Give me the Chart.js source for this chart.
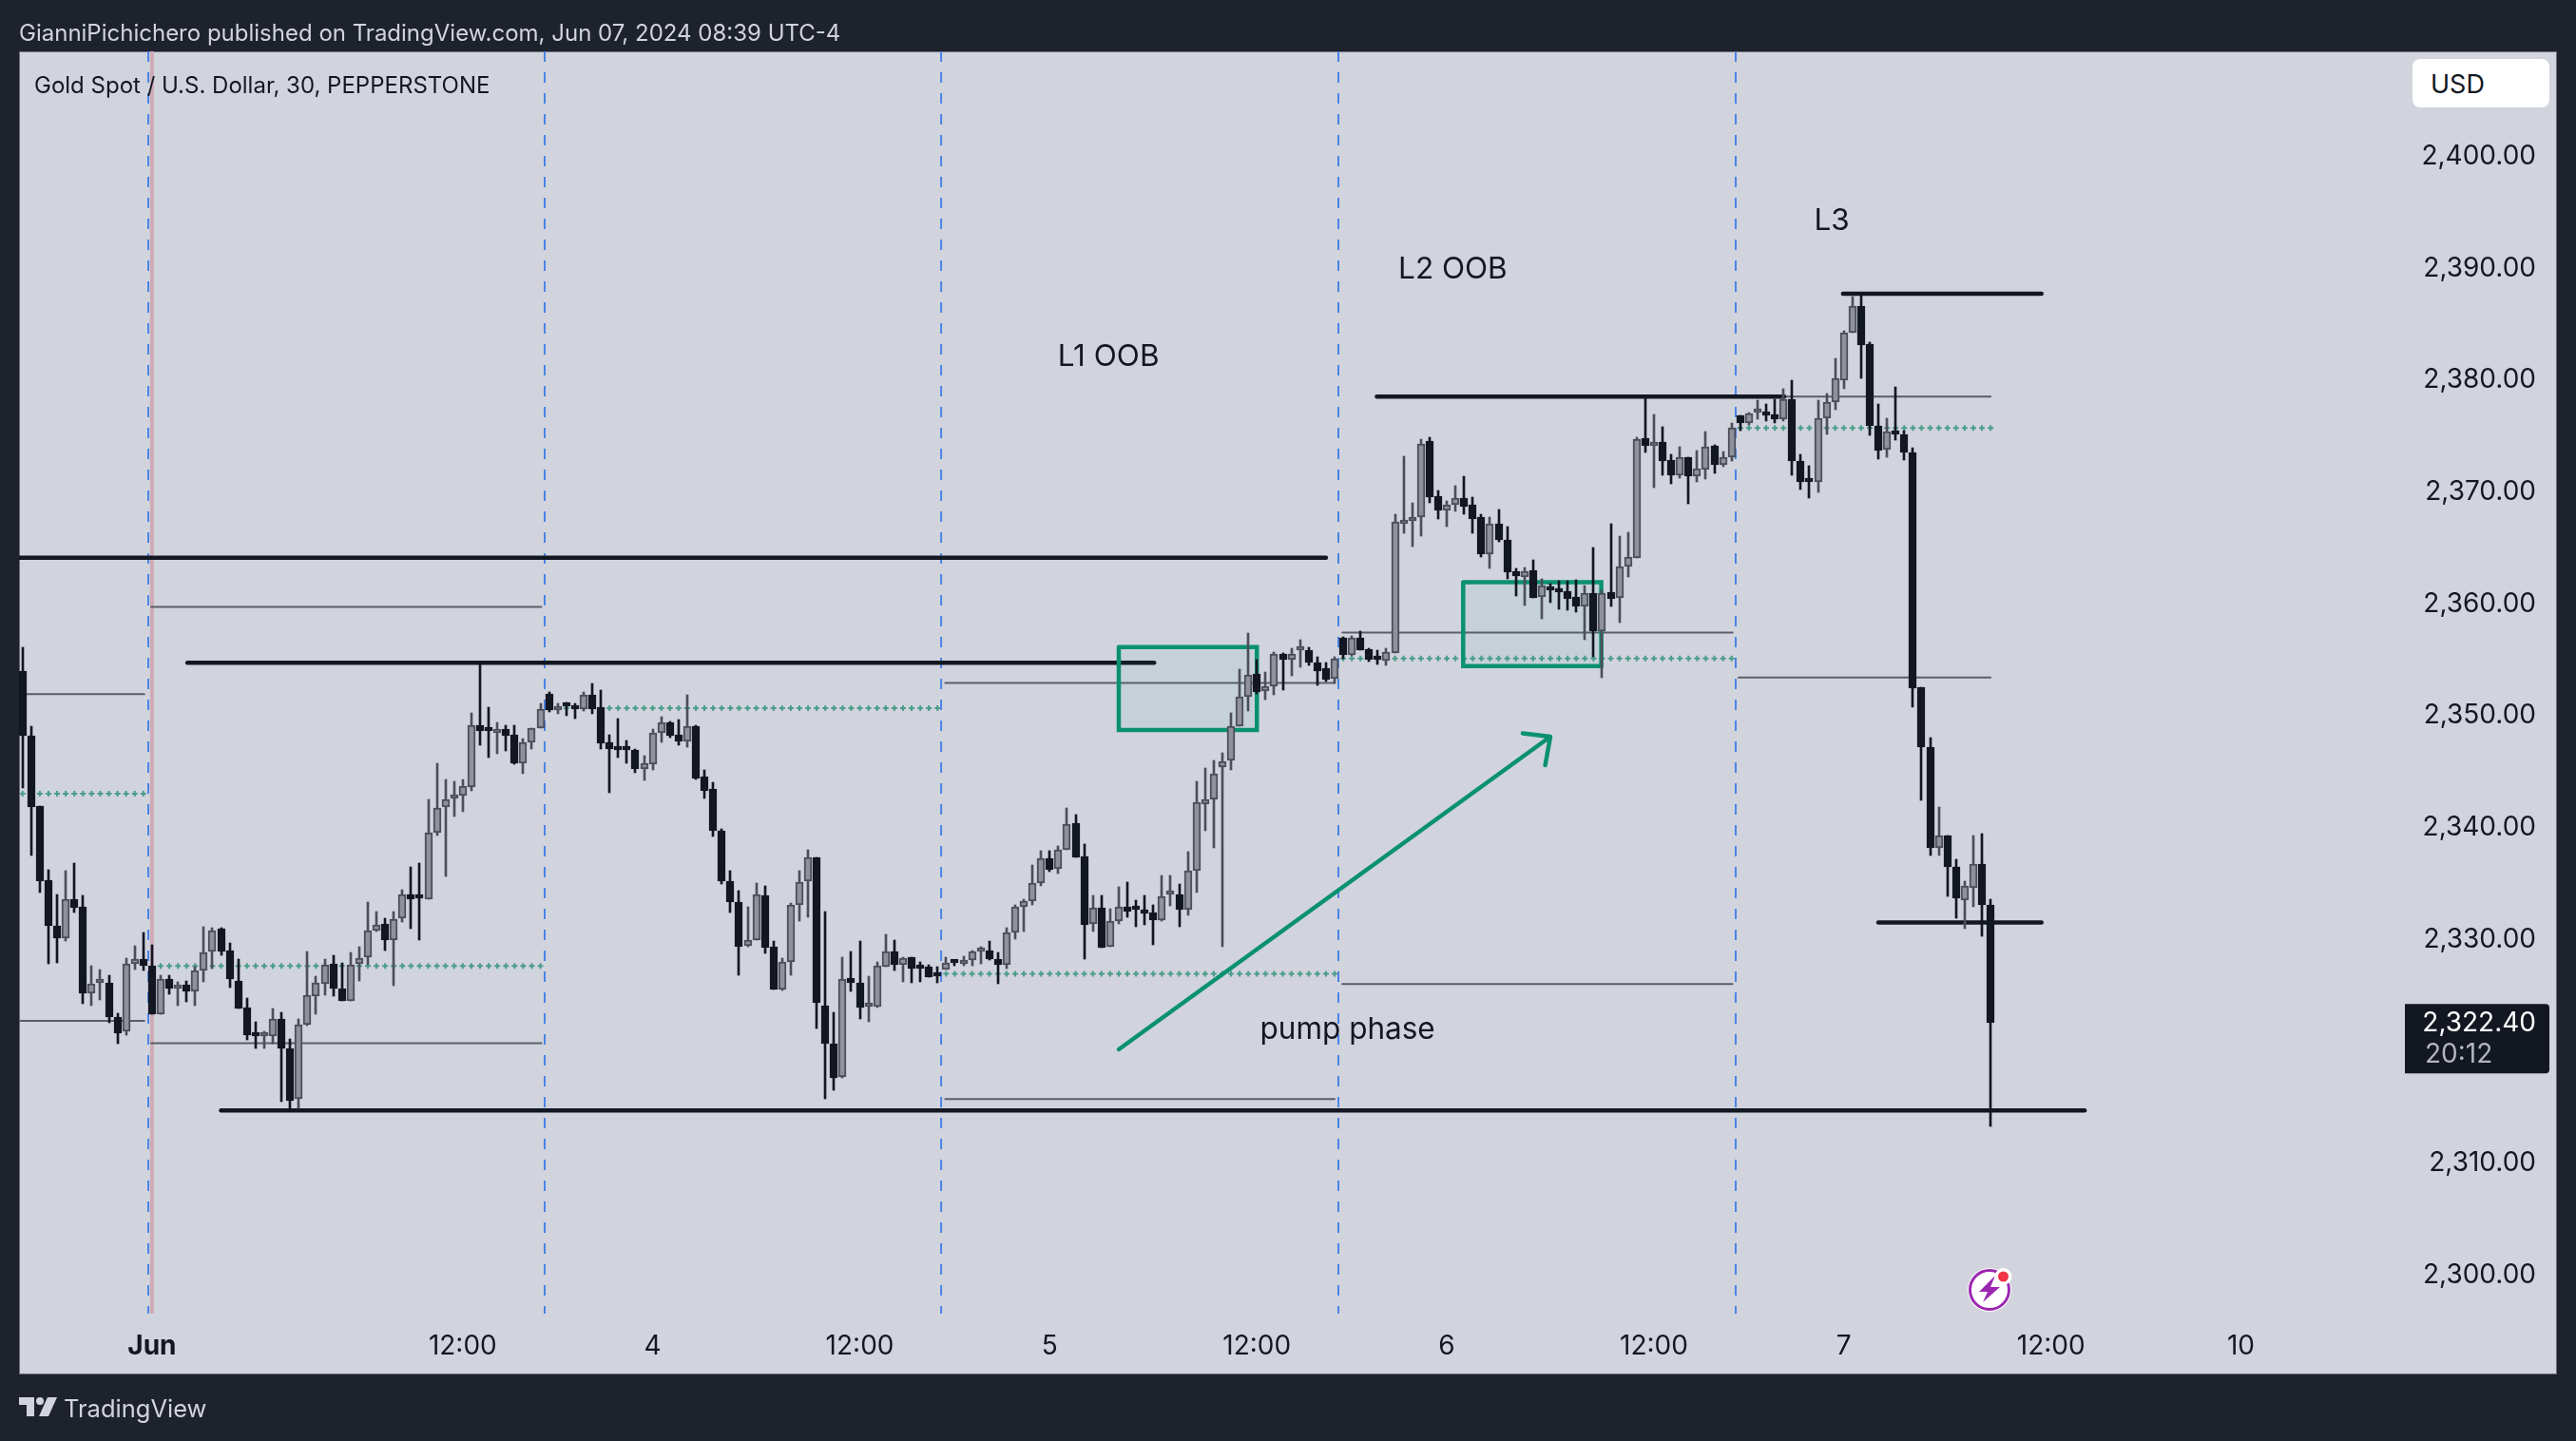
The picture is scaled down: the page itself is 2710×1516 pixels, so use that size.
<!DOCTYPE html>
<html>
<head>
<meta charset="utf-8">
<title>Gold Spot / U.S. Dollar</title>
<script src="https://cdn.jsdelivr.net/npm/chart.js@4/dist/chart.umd.min.js"></script>
<style>
html, body { margin: 0; padding: 0; width: 2710px; height: 1516px; background: #1e222d; overflow: hidden; font-family: Inter, sans-serif; }
#panel { position: absolute; left: 20px; top: 54px; width: 2668px; height: 1390px; background: #d1d4dc; border: 1px solid #6a6d78; }
#chart { position: absolute; left: 0; top: 0; }
.txt { position: absolute; white-space: nowrap; line-height: 1; }
#published { left: 20px; top: 23px; font-size: 24px; color: #d1d4dc; }
#legend { left: 36px; top: 78px; font-size: 24px; color: #131722; }
#brand { left: 67px; top: 1469px; font-size: 25.5px; color: #d1d4dc; }
#currency { left: 2538px; top: 62px; width: 144px; height: 51px; line-height: 53px; background: #fff; border-radius: 8px; color: #131722; font-size: 27px; text-indent: 19px; }
#logo { position: absolute; left: 20px; top: 1470px; }
#flash { position: absolute; left: 2065px; top: 1329px; }
</style>
</head>
<body>
<div id="panel"></div>
<canvas id="chart" width="2710" height="1516"></canvas>
<div class="txt" id="published">GianniPichichero published on TradingView.com, Jun 07, 2024 08:39 UTC-4</div>
<div class="txt" id="legend">Gold Spot / U.S. Dollar, 30, PEPPERSTONE</div>
<div class="txt" id="currency">USD</div>
<div class="txt" id="brand">TradingView</div>
<svg id="logo" width="40" height="20" viewBox="0 0 40 20">
  <path fill="#d1d4dc" d="M0 0h16v20H8V8H0z"/>
  <circle fill="#d1d4dc" cx="22" cy="4" r="4"/>
  <path fill="#d1d4dc" d="M30 0h10l-9 20H21z"/>
</svg>
<svg id="flash" width="60" height="56" viewBox="0 0 60 56">
  <circle cx="28" cy="28" r="23" fill="#fff"/>
  <circle cx="28" cy="28" r="20.5" fill="none" stroke="#9c27b0" stroke-width="3"/>
  <path fill="#9c27b0" d="M34 13 L17 30 L26 30 L21 41 L39 25 L29 25 Z"/>
  <circle cx="42.5" cy="14" r="9" fill="#fff"/>
  <circle cx="42.5" cy="14" r="5.5" fill="#f23645"/>
</svg>

<script>
// candles, one per 30 minutes
var opens = [2353.9,2348.1,2341.8,2335.2,2331.1,2330.0,2333.5,2332.8,2325.1,2326.0,
2326.0,2322.9,2321.7,2327.7,2328.1,2327.5,2323.2,2326.3,2325.5,2325.8,
2325.2,2327.1,2328.8,2330.8,2328.9,2326.2,2323.8,2321.4,2321.2,2321.2,
2322.8,2320.1,2315.6,2322.3,2324.8,2325.9,2327.7,2325.5,2324.4,2327.7,
2328.3,2330.7,2331.3,2329.8,2331.8,2333.9,2333.8,2333.5,2339.4,2341.7,
2342.5,2342.7,2343.5,2349.0,2348.6,2348.3,2348.7,2348.2,2345.6,2347.5,
2348.8,2351.8,2350.4,2350.8,2350.7,2350.5,2351.7,2350.6,2347.5,2347.0,
2346.9,2346.8,2345.1,2345.5,2348.3,2349.3,2348.2,2347.6,2348.9,2344.4,
2343.3,2339.6,2335.1,2333.2,2329.3,2329.8,2333.8,2329.2,2325.4,2327.9,
2333.0,2335.1,2337.2,2324.0,2320.6,2317.6,2326.4,2326.0,2323.9,2323.9,
2327.4,2328.8,2327.6,2328.3,2327.4,2327.4,2326.7,2327.2,2328.0,2327.7,
2328.0,2328.8,2328.9,2328.1,2327.6,2330.5,2332.8,2333.3,2334.9,2337.1,
2336.2,2337.9,2340.3,2337.3,2331.3,2332.7,2329.2,2331.5,2332.8,2332.7,
2332.5,2332.3,2331.6,2333.9,2333.9,2332.5,2336.0,2342.0,2342.4,2345.3,
2345.9,2348.9,2351.6,2353.6,2352.1,2352.5,2355.4,2354.9,2355.7,2355.7,
2354.6,2354.1,2353.2,2356.8,2355.3,2356.8,2355.8,2355.1,2354.8,2355.5,
2367.0,2367.3,2367.6,2374.4,2369.5,2368.2,2368.7,2369.3,2368.7,2367.6,
2364.3,2367.0,2365.6,2362.8,2362.3,2362.9,2360.5,2361.4,2361.2,2361.0,
2360.5,2359.6,2360.8,2357.4,2360.9,2360.4,2363.2,2364.0,2374.7,2374.0,
2374.3,2372.7,2371.4,2373.0,2371.3,2371.9,2374.0,2372.3,2373.0,2376.7,
2376.0,2377.0,2377.0,2376.8,2376.4,2378.2,2372.6,2371.0,2370.8,2376.5,
2377.9,2379.9,2384.1,2386.5,2383.1,2375.8,2373.7,2375.3,2375.0,2373.4,
2352.4,2347.1,2338.1,2339.2,2336.4,2333.4,2334.5,2336.6,2333.0];
var highs = [2356.0,2348.9,2341.8,2336.1,2333.9,2336.0,2336.7,2333.8,2327.5,2327.2,
2326.7,2323.3,2328.2,2329.3,2330.5,2329.4,2326.7,2326.7,2326.1,2326.2,
2327.4,2331.0,2330.9,2330.9,2329.6,2328.1,2324.6,2322.5,2321.7,2323.7,
2323.4,2321.0,2322.8,2328.8,2326.6,2328.1,2328.5,2327.8,2328.7,2329.2,
2333.2,2332.4,2331.8,2332.4,2334.3,2336.4,2336.7,2342.4,2345.6,2344.2,
2344.0,2344.2,2350.1,2354.5,2350.6,2349.3,2349.0,2349.0,2347.8,2348.8,
2351.0,2352.0,2351.0,2351.1,2351.0,2352.0,2352.8,2352.2,2348.2,2349.6,
2347.7,2346.9,2346.3,2348.7,2349.8,2349.4,2349.5,2351.7,2349.0,2345.0,
2343.9,2339.8,2336.0,2334.2,2332.8,2334.9,2334.7,2329.7,2328.2,2333.1,
2336.0,2337.9,2337.2,2332.4,2323.4,2328.3,2328.8,2329.7,2326.6,2327.9,
2330.3,2329.8,2328.3,2328.3,2327.9,2327.6,2327.4,2328.3,2328.0,2328.4,
2328.9,2329.2,2329.7,2328.7,2330.9,2333.0,2333.5,2336.5,2337.8,2337.8,
2338.2,2341.6,2341.0,2338.4,2333.8,2333.8,2332.6,2334.6,2335.0,2333.4,
2333.8,2333.0,2335.6,2335.6,2334.8,2337.7,2344.0,2345.2,2345.9,2346.6,
2350.1,2354.0,2357.3,2354.9,2353.8,2355.6,2355.5,2355.9,2356.7,2356.0,
2355.1,2354.6,2355.1,2356.9,2357.0,2357.4,2355.9,2355.7,2355.9,2367.9,
2373.1,2368.9,2374.6,2374.8,2370.0,2369.1,2370.4,2371.3,2369.4,2367.9,
2367.6,2368.3,2366.8,2363.0,2363.1,2363.8,2362.1,2361.7,2361.9,2361.9,
2362.0,2361.5,2364.9,2361.1,2367.0,2365.9,2366.3,2374.8,2378.3,2376.8,
2375.7,2373.2,2373.9,2373.0,2373.6,2375.3,2374.1,2373.5,2376.0,2376.7,
2377.0,2378.1,2377.7,2378.2,2379.1,2379.9,2373.2,2372.2,2378.1,2378.7,
2381.8,2384.3,2387.3,2387.5,2383.3,2377.7,2376.5,2379.3,2375.4,2373.8,
2352.4,2347.9,2341.7,2339.2,2337.0,2335.1,2339.2,2339.3,2333.5];
var lows = [2343.4,2337.4,2334.1,2327.7,2327.8,2329.7,2332.3,2324.1,2324.0,2324.5,
2322.4,2320.6,2321.3,2327.2,2327.1,2323.2,2323.2,2325.0,2324.0,2324.3,
2324.0,2326.1,2327.3,2328.5,2325.6,2323.7,2320.9,2320.1,2320.1,2320.6,
2315.4,2314.6,2314.8,2322.2,2323.2,2324.9,2324.8,2324.4,2324.4,2326.2,
2327.6,2330.6,2328.9,2325.7,2331.4,2330.8,2329.8,2333.5,2339.2,2335.5,
2340.9,2341.3,2343.2,2347.2,2346.1,2346.5,2346.7,2345.5,2344.7,2346.9,
2348.8,2350.2,2350.0,2349.9,2349.6,2350.3,2350.0,2346.9,2343.0,2346.1,
2345.6,2344.8,2344.1,2345.0,2347.5,2347.9,2347.2,2347.1,2344.2,2342.5,
2339.1,2334.8,2332.3,2326.7,2329.2,2329.8,2328.6,2325.4,2325.3,2326.7,
2331.5,2331.9,2321.9,2315.6,2316.4,2317.5,2325.2,2322.8,2322.5,2323.8,
2327.4,2327.1,2326.1,2326.0,2326.1,2326.5,2326.0,2327.2,2327.5,2327.5,
2327.5,2327.7,2328.0,2325.9,2327.3,2329.9,2330.6,2333.0,2334.7,2335.9,
2335.8,2337.9,2337.2,2328.1,2330.6,2329.1,2329.2,2331.3,2331.9,2331.0,
2331.2,2329.4,2331.5,2332.9,2331.0,2332.0,2334.1,2339.6,2338.1,2329.2,
2345.0,2348.9,2350.3,2351.8,2351.3,2351.7,2352.2,2353.4,2354.2,2354.4,
2352.6,2352.9,2352.8,2355.0,2355.2,2355.7,2354.7,2354.5,2354.4,2355.5,
2366.2,2365.0,2365.9,2368.9,2367.5,2366.8,2368.1,2367.9,2366.2,2364.1,
2363.0,2365.4,2362.1,2360.6,2359.7,2360.4,2358.5,2360.0,2359.4,2359.3,
2359.1,2356.7,2355.1,2353.3,2359.6,2358.2,2362.3,2364.0,2373.4,2370.3,
2371.4,2370.6,2371.1,2368.8,2370.8,2371.0,2371.5,2372.1,2372.6,2375.4,
2375.9,2376.4,2376.2,2376.0,2376.2,2371.4,2370.1,2369.3,2369.8,2375.0,
2377.2,2379.1,2384.1,2380.0,2374.9,2372.8,2373.0,2374.5,2372.7,2350.6,
2342.3,2337.4,2337.4,2333.7,2331.8,2330.8,2332.8,2330.2,2313.2];
var closes = [2348.1,2341.7,2335.1,2331.1,2330.0,2333.5,2332.7,2325.1,2325.9,2326.1,
2322.9,2321.5,2327.7,2328.1,2327.5,2323.2,2326.3,2325.5,2325.8,2325.2,
2327.1,2328.7,2330.7,2328.8,2326.3,2323.7,2321.3,2321.2,2321.3,2322.8,
2320.1,2315.5,2322.3,2324.9,2326.0,2327.6,2325.5,2324.4,2327.6,2328.2,
2330.7,2331.2,2329.8,2331.7,2333.9,2333.5,2333.6,2339.4,2341.6,2342.4,
2342.8,2343.6,2349.0,2348.5,2348.5,2348.6,2348.1,2345.6,2347.5,2348.8,
2350.5,2350.4,2350.7,2350.7,2350.5,2351.7,2350.5,2347.4,2346.9,2346.8,
2346.8,2345.1,2345.6,2348.3,2349.3,2348.1,2347.6,2348.9,2344.3,2343.2,
2339.6,2335.1,2333.2,2329.2,2329.8,2333.9,2329.1,2325.4,2327.9,2333.0,
2335.0,2337.2,2324.2,2320.6,2317.5,2326.3,2326.0,2323.8,2324.1,2327.5,
2328.8,2327.6,2328.2,2327.3,2327.3,2326.5,2326.6,2327.8,2327.8,2327.9,
2328.8,2329.0,2328.1,2327.6,2330.5,2332.8,2333.3,2334.9,2337.1,2336.1,
2337.9,2340.2,2337.2,2331.2,2332.7,2329.1,2331.5,2332.8,2332.4,2332.5,
2332.2,2331.6,2333.7,2334.0,2332.5,2336.0,2342.1,2342.4,2344.7,2345.8,
2348.9,2351.6,2353.5,2352.0,2352.5,2355.4,2354.9,2355.4,2355.8,2354.6,
2353.9,2353.1,2355.0,2355.3,2356.8,2355.7,2354.9,2354.9,2355.6,2367.2,
2367.3,2367.6,2374.2,2369.4,2368.2,2368.7,2369.3,2368.6,2367.5,2364.3,
2367.0,2365.6,2362.7,2362.4,2362.8,2360.4,2361.5,2361.1,2360.9,2360.3,
2359.6,2360.8,2357.4,2360.8,2360.3,2363.2,2364.1,2374.6,2374.0,2374.3,
2372.6,2371.4,2373.0,2371.3,2372.0,2373.9,2372.3,2373.0,2375.6,2376.0,
2376.9,2377.1,2376.7,2376.4,2378.2,2372.6,2370.8,2370.8,2376.5,2377.9,
2380.0,2384.1,2386.5,2383.0,2375.8,2373.6,2375.3,2375.0,2373.4,2352.3,
2347.1,2338.1,2339.2,2336.4,2333.6,2334.7,2336.6,2333.0,2322.4];

// axis ticks
var priceTicks = [2300,2310,2330,2340,2350,2360,2370,2380,2390,2400];
var timeTicks = [15,51,73,97,119,143,165,189,211,235,257];
var timeLabels = ['Jun','12:00','4','12:00','5','12:00','6','12:00','7','12:00','10'];

// session lines, in candle index
var sessionLines = [14.57,60.49,106.42,152.44,198.47];
var monthLine = 15;

// drawn levels: from index, to index, price
var thickFrom = [-0.41,19.1,23.0,156.9,210.9,215.0];
var thickTo = [151.0,131.1,238.9,204.1,233.9,233.9];
var thickPrice = [2364.0,2354.6,2314.6,2378.4,2387.6,2331.4];
var thinFrom = [-0.41,-0.41,14.9,14.9,106.9,106.9,152.9,152.9,198.8,198.8];
var thinTo = [14.1,14.1,60.1,60.1,152.0,152.0,198.1,198.1,228.0,228.0];
var thinPrice = [2351.8,2322.6,2359.6,2320.6,2352.8,2315.6,2357.3,2325.9,2353.3,2378.4];
var dotFrom = [0,16,61,107,153,199];
var dotTo = [14,60,106,152,198,228];
var dotPrice = [2342.9,2327.5,2350.55,2326.8,2355.0,2375.6];

// boxes and arrow
var boxFrom = [127.0,166.9];
var boxTo = [143.0,182.9];
var boxTop = [2356.0,2361.8];
var boxBottom = [2348.6,2354.3];
var arrowX = [127.0,177.0,173.8,177.0,176.4];
var arrowY = [2320.05,2348.0,2348.3,2348.0,2345.45];

// text on the chart
var notes = ['L1 OOB','L2 OOB','L3','pump phase'];
var noteX = [125.8,165.7,209.6,153.5];
var noteY = [2381.9,2389.75,2394.1,2321.8];
var lastPrice = '2,322.40';
var countdown = '20:12';

var ink = '#131722';
var bullLine = '#4c4f5a';
var bullFill = '#8f929b';
var teal = '#0a9170';

function isBull(i)
{
    return closes[i] >= opens[i];
}

var wickData = [], bodyData = [], wickColors = [], bodyColors = [], bodyBorders = [];
for (var i = 0; i < opens.length; i++) {
    wickData.push({x: i, y: [lows[i], highs[i]]});
    bodyData.push({x: i, y: [opens[i], closes[i]]});
    wickColors.push(isBull(i) ? bullLine : ink);
    bodyColors.push(isBull(i) ? bullFill : ink);
    bodyBorders.push(isBull(i) ? bullLine : ink);
}

var datasets = [
    {type: 'bar', data: bodyData, order: 1, grouped: false, barThickness: 8, minBarLength: 4,
        backgroundColor: bodyColors, borderColor: bodyBorders, borderWidth: 2, borderSkipped: false},
    {type: 'bar', data: wickData, order: 2, grouped: false, barThickness: 2, minBarLength: 1,
        backgroundColor: wickColors, borderWidth: 0}
];

function lineSet(points, color, width, order, extra)
{
    var ds = {type: 'line', data: points, borderColor: color, borderWidth: width, order: order,
        pointRadius: 0, tension: 0, fill: false, borderCapStyle: 'round'};
    for (var k in extra) { ds[k] = extra[k]; }
    return ds;
}

thinPrice.forEach(function (p, n) {
    datasets.push(lineSet([{x: thinFrom[n], y: p}, {x: thinTo[n], y: p}], '#5b5e69', 2, 6));
});
thickPrice.forEach(function (p, n) {
    datasets.push(lineSet([{x: thickFrom[n], y: p}, {x: thickTo[n], y: p}], ink, 4.5, 4));
});
// the plus markers sit on every candle of the session
dotPrice.forEach(function (p, n) {
    var pts = [];
    for (var j = dotFrom[n]; j <= dotTo[n]; j++) { pts.push({x: j, y: p}); }
    datasets.push({type: 'line', data: pts, showLine: false, order: 5, pointStyle: 'cross',
        pointRadius: 3, pointBorderWidth: 2, pointBorderColor: '#4b9c8a', pointHoverRadius: 3});
});
boxTop.forEach(function (t, n) {
    var b = boxBottom[n], l = boxFrom[n], r = boxTo[n];
    datasets.push(lineSet([{x: l, y: t}, {x: r, y: t}, {x: r, y: b}, {x: l, y: b}, {x: l, y: t}], teal, 4.5, 3,
        {fill: 'shape', backgroundColor: 'rgba(8,153,129,0.05)', borderJoinStyle: 'miter'}));
});
datasets.push(lineSet(arrowX.map(function (x, n) { return {x: x, y: arrowY[n]}; }), teal, 4.5, 3, {borderJoinStyle: 'round'}));
sessionLines.forEach(function (x) {
    datasets.push(lineSet([{x: x, y: 2409.26}, {x: x, y: 2296.43}], '#4a84e6', 2, 7, {borderDash: [11, 11], borderCapStyle: 'butt'}));
});
datasets.push(lineSet([{x: monthLine, y: 2409.26}, {x: monthLine, y: 2296.43}], '#cfaab6', 4, 8, {borderCapStyle: 'butt'}));

// keep the candles on whole pixels so they stay sharp
var snapCandles = {
    id: 'snapCandles',
    beforeDatasetsDraw: function (chart) {
        [0, 1].forEach(function (d) {
            chart.getDatasetMeta(d).data.forEach(function (bar) {
                bar.x = Math.round(bar.x);
                bar.y = Math.round(bar.y);
                bar.base = Math.round(bar.base);
            });
        });
    }
};

// notes and the last price tag, placed through the scales
var chartText = {
    id: 'chartText',
    afterDatasetsDraw: function (chart) {
        var ctx = chart.ctx, xs = chart.scales.x, ys = chart.scales.y;
        ctx.save();
        ctx.font = '400 31.5px Inter';
        ctx.fillStyle = ink;
        ctx.textAlign = 'center';
        ctx.textBaseline = 'middle';
        notes.forEach(function (t, n) {
            ctx.fillText(t, xs.getPixelForValue(noteX[n]), ys.getPixelForValue(noteY[n]));
        });
        var y = ys.getPixelForValue(closes[closes.length - 1]);
        ctx.fillStyle = ink;
        ctx.beginPath();
        ctx.roundRect(2530, y - 20, 152, 73, [0, 4, 4, 0]);
        ctx.fill();
        ctx.font = '400 28px Inter';
        ctx.textAlign = 'right';
        ctx.fillStyle = '#ffffff';
        ctx.fillText(lastPrice, 2668, y);
        ctx.textAlign = 'left';
        ctx.fillStyle = '#b2b5be';
        ctx.fillText(countdown, 2551, y + 33);
        ctx.restore();
    }
};

var chart = new Chart(document.getElementById('chart'), {
    type: 'bar',
    data: {datasets: datasets},
    plugins: [snapCandles, chartText],
    options: {
        responsive: false,
        animation: false,
        devicePixelRatio: 1,
        layout: {padding: {left: 20, top: 54, right: 42, bottom: 71}},
        plugins: {legend: {display: false}, tooltip: {enabled: false}, title: {display: false}},
        scales: {
            x: {
                type: 'linear',
                offset: false,
                min: -0.41,
                max: 276,
                grid: {display: false},
                border: {display: false},
                afterBuildTicks: function (axis) {
                    axis.ticks = timeTicks.map(function (v) { return {value: v}; });
                },
                afterFit: function (axis) { axis.height = 63; },
                ticks: {
                    autoSkip: false,
                    maxRotation: 0,
                    padding: 10,
                    color: ink,
                    font: function (c) {
                        return c.tick && c.tick.value === timeTicks[0]
                            ? {family: 'Inter', size: 28, weight: '700'}
                            : {family: 'Inter', size: 28, weight: '400'};
                    },
                    callback: function (v) { return timeLabels[timeTicks.indexOf(v)]; }
                }
            },
            y: {
                position: 'right',
                min: 2296.43,
                max: 2409.26,
                grid: {display: false},
                border: {display: false},
                afterBuildTicks: function (axis) {
                    axis.ticks = priceTicks.map(function (v) { return {value: v}; });
                },
                afterFit: function (axis) { axis.width = 138; },
                ticks: {
                    padding: 0,
                    crossAlign: 'far',
                    labelOffset: 1.5,
                    color: ink,
                    font: {family: 'Inter', size: 28, weight: '400'},
                    callback: function (v) {
                        return v.toLocaleString('en-US', {minimumFractionDigits: 2, maximumFractionDigits: 2});
                    }
                }
            }
        }
    }
});
</script>
</body>
</html>
